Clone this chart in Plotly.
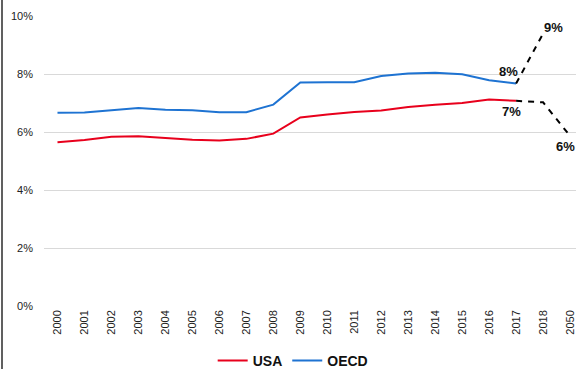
import plotly.graph_objects as go

# Health spending share, percent
years = ["2000", "2001", "2002", "2003", "2004", "2005", "2006", "2007", "2008",
         "2009", "2010", "2011", "2012", "2013", "2014", "2015", "2016", "2017",
         "2018", "2050"]

usa = [5.66, 5.74, 5.85, 5.87, 5.81, 5.75, 5.72, 5.78, 5.96, 6.52, 6.62, 6.71,
       6.76, 6.88, 6.96, 7.02, 7.14, 7.09, None, None]
oecd = [6.68, 6.69, 6.77, 6.84, 6.78, 6.77, 6.70, 6.70, 6.96, 7.72, 7.73, 7.73,
        7.95, 8.03, 8.06, 8.01, 7.80, 7.69, None, None]

# Projections beyond the last observed year
proj_years = ["2017", "2018", "2050"]
usa_proj = [7.09, 7.04, 5.88]
oecd_proj = [7.69, 9.41, None]

y_ticks = [0, 2, 4, 6, 8, 10]
y_ticktext = [f"{v}%" for v in y_ticks]

RED = "#e8001c"
BLUE = "#1e73d2"
FONT = "Liberation Sans, Arial, sans-serif"

fig = go.Figure()

fig.add_trace(go.Scatter(x=years, y=usa, name="USA", mode="lines",
                         line=dict(color=RED, width=2)))
fig.add_trace(go.Scatter(x=years, y=oecd, name="OECD", mode="lines",
                         line=dict(color=BLUE, width=2)))
fig.add_trace(go.Scatter(x=proj_years, y=usa_proj, mode="lines", showlegend=False,
                         line=dict(color="black", width=2, dash="6px,6px")))
fig.add_trace(go.Scatter(x=proj_years, y=oecd_proj, mode="lines", showlegend=False,
                         connectgaps=False,
                         line=dict(color="black", width=2, dash="6px,6px")))

# Value labels at the ends of the series (x given as category index)
labels = [
    ("2017", oecd[17], -8, 12),
    ("2017", usa[17], -5, -11),
    ("2018", oecd_proj[1], 10, 6),
    ("2050", usa_proj[2], -5, -11),
]
for x, v, dx, dy in labels:
    fig.add_annotation(x=years.index(x), y=v, text=f"<b>{v:.0f}%</b>",
                       showarrow=False, xshift=dx, yshift=dy,
                       font=dict(family=FONT, size=13, color="#111"))

# Left frame line
plot_top, plot_bottom, fig_h, left = 16, 307, 369, 44
plot_h = plot_bottom - plot_top
fig.add_shape(type="line", xref="paper", yref="paper",
              x0=(2 - left) / 532, x1=(2 - left) / 532,
              y0=-(fig_h - plot_bottom) / plot_h, y1=1 + plot_top / plot_h,
              line=dict(color="#606060", width=2))

fig.update_layout(
    width=576, height=369,
    margin=dict(l=left, r=0, t=plot_top, b=fig_h - plot_bottom),
    paper_bgcolor="white", plot_bgcolor="white",
    font=dict(family=FONT, size=11, color="#222"),
    showlegend=True,
    legend=dict(orientation="h", xref="container", yref="container",
                x=0.509, xanchor="center", y=0.022, yanchor="middle",
                font=dict(family=FONT, size=14, color="#111", weight="bold"),
                itemwidth=30, tracegroupgap=0, bgcolor="rgba(0,0,0,0)"),
    xaxis=dict(type="category", categoryorder="array", categoryarray=years,
               range=[-0.5, 19.22], tickangle=-90, showgrid=False,
               showline=False, ticks="", tickfont=dict(size=11, color="#222"),
               fixedrange=True),
    yaxis=dict(range=[-0.015, 10.015], tickvals=y_ticks, ticktext=y_ticktext,
               showgrid=True, gridcolor="#d9d9d9", gridwidth=1,
               zeroline=False, showline=False, ticks="",
               ticklabelstandoff=10, tickfont=dict(size=11, color="#222"),
               fixedrange=True),
)

fig.write_html("out.html")
